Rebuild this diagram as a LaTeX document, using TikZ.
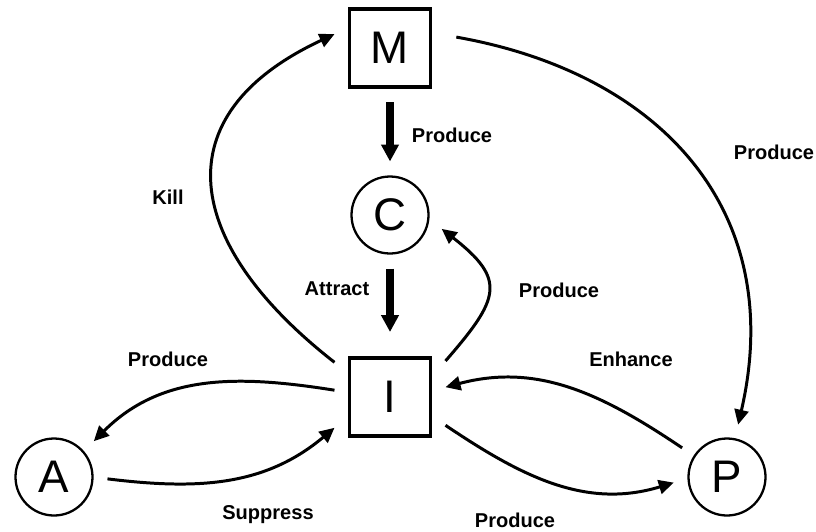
\documentclass[tikz,border=0pt]{standalone}
\usepackage{fontspec}
\setmainfont{Liberation Sans}
\usepackage{tikz}
\usetikzlibrary{shapes,positioning,calc}
\usetikzlibrary{arrows.meta}
\tikzstyle{boxnode} = [rectangle, minimum width=1.62cm, minimum height=1.56cm, text centered, draw=black, line width=2.2pt, outer sep=0.3cm, font=\fontsize{26}{30}\selectfont]
\tikzstyle{roundnode} = [circle, minimum size=1.54cm, inner sep=0pt, text centered, draw=black, line width=1.3pt, outer sep=0.3cm, font=\fontsize{26}{30}\selectfont]
\tikzstyle{arrow} = [line width=1.7pt, -{Triangle[length=0.3cm,width=0.28cm]}]
\tikzstyle{bigarrow} = [line width=4.5pt, -{Triangle[length=0.34cm,width=0.34cm]}]
\tikzstyle{tag} = [font=\fontsize{11.4}{13}\selectfont\bfseries]

\begin{document}
\begin{tikzpicture}
						\useasboundingbox (0,0) rectangle (16.32,-10.62);
						\node (m) at (7.8,-0.96) [boxnode] {M};
						\node (c) at (7.8,-4.3) [roundnode] {C};
						\node (i) at (7.8,-7.94) [boxnode] {I};
						\node (a) at (1.08,-9.54) [roundnode] {A};
						\node (p) at (14.54,-9.54) [roundnode] {P};
						\node (mc) at (9.04,-2.7) [tag] {Produce};
						\node (kill) at (3.36,-3.94) [tag] {Kill};
						\node (attract) at (6.74,-5.78) [tag] {Attract};
						\node (ic) at (11.18,-5.8) [tag] {Produce};
						\node (ia) at (3.36,-7.18) [tag] {Produce};
						\node (enhance) at (12.62,-7.18) [tag] {Enhance};
						\node (suppress) at (5.36,-10.3) [tag] {Suppress};
						\node (ip) at (10.3,-10.4) [tag] {Produce};
						\node (mp) at (15.48,-3.04) [tag] {Produce};
						\draw[bigarrow] (m) -- (c);
						\draw[bigarrow, shorten >=0.22cm] (c) -- (i);
						\draw[arrow] (i.148) to [out=142, in=205, looseness=1.5] (m.166);
						\draw[arrow, shorten <=0.22cm] (m.13) to [out=-10, in=77, looseness=1.15] (p.78);
						\draw[arrow] (i.33) to [out=49, in=-38, looseness=1.6] (c.-15);
						\draw[arrow] (i.173) to [out=171, in=45] (a.42);
						\draw[arrow] (a.-2) to [out=-7, in=220] (i.209);
						\draw[arrow] (p.147) to [out=146, in=15] (i.10);
						\draw[arrow] (i.-27) to [out=-34, in=197] (p.186);
						
					\end{tikzpicture}
\end{document}
